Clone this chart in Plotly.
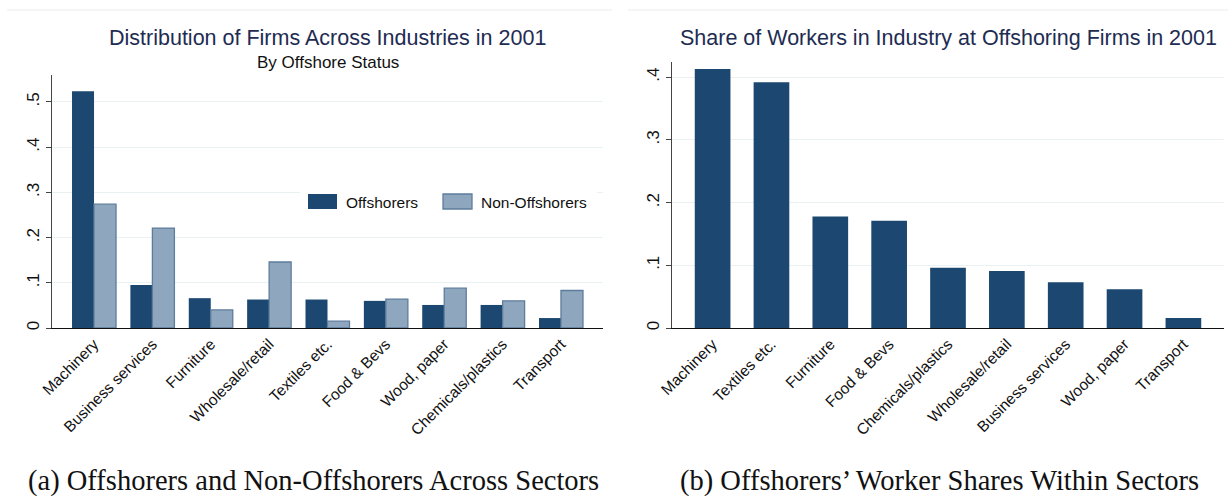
import plotly.graph_objects as go

# ---- data -------------------------------------------------------------
left_categories = ["Machinery", "Business services", "Furniture", "Wholesale/retail",
                   "Textiles etc.", "Food & Bevs", "Wood, paper", "Chemicals/plastics",
                   "Transport"]
offshorers = [0.524, 0.095, 0.066, 0.063, 0.063, 0.060, 0.051, 0.051, 0.022]
non_offshorers = [0.274, 0.221, 0.040, 0.146, 0.015, 0.064, 0.088, 0.060, 0.083]

right_categories = ["Machinery", "Textiles etc.", "Furniture", "Food & Bevs",
                    "Chemicals/plastics", "Wholesale/retail", "Business services",
                    "Wood, paper", "Transport"]
worker_share = [0.413, 0.392, 0.178, 0.171, 0.096, 0.091, 0.073, 0.062, 0.016]

left_ticks = [0, 0.1, 0.2, 0.3, 0.4, 0.5]
left_ticktext = ["0", ".1", ".2", ".3", ".4", ".5"]
right_ticks = [0, 0.1, 0.2, 0.3, 0.4]
right_ticktext = ["0", ".1", ".2", ".3", ".4"]

# ---- styling ----------------------------------------------------------
W, H = 1228, 500
NAVY = "#1b4770"
LIGHT = "#8fa7be"
LIGHT_EDGE = "#5e7d9c"
GRID = "#eaf1f3"
SANS = "Liberation Sans, Arial, sans-serif"
SERIF = "Liberation Serif, Times New Roman, serif"
TITLE_COLOR = "#1e2c52"


def px_x(x):
    return x / W


def px_y(y):
    return 1 - y / H


fig = go.Figure()

fig.add_trace(go.Bar(x=left_categories, y=offshorers, name="Offshorers",
                     marker=dict(color=NAVY, line=dict(color=NAVY, width=0)),
                     xaxis="x", yaxis="y", showlegend=False))
fig.add_trace(go.Bar(x=left_categories, y=non_offshorers, name="Non-Offshorers",
                     marker=dict(color=LIGHT, line=dict(color=LIGHT_EDGE, width=1.3)),
                     xaxis="x", yaxis="y", showlegend=False))
fig.add_trace(go.Bar(x=right_categories, y=worker_share, name="Worker share",
                     width=0.606,
                     marker=dict(color=NAVY, line=dict(color=NAVY, width=0)),
                     xaxis="x2", yaxis="y2", showlegend=False))

xaxis_common = dict(type="category", showline=True, linecolor="#111", linewidth=1.2,
                    ticks="", tickangle=-45, showgrid=False, zeroline=False,
                    automargin=False,
                    tickfont=dict(family=SANS, size=15.5, color="#111"))
yaxis_common = dict(showline=True, linecolor="#444", linewidth=1.2, ticks="outside",
                    ticklen=5, tickcolor="#444", tickangle=-90, showgrid=True,
                    gridcolor=GRID, gridwidth=1, zeroline=False, automargin=False,
                    tickfont=dict(family=SANS, size=17, color="#111"))

fig.update_layout(
    width=W, height=H,
    margin=dict(l=0, r=0, t=0, b=0, autoexpand=False),
    paper_bgcolor="white", plot_bgcolor="white",
    barmode="group", bargap=0.246, bargroupgap=0,
    xaxis=dict(domain=[px_x(52), px_x(603)], range=[-0.72, 8.72], anchor="y",
               **xaxis_common),
    yaxis=dict(domain=[px_y(328), px_y(75)], range=[0, 0.5597], anchor="x",
               tickvals=left_ticks, ticktext=left_ticktext, **yaxis_common),
    xaxis2=dict(domain=[px_x(672), px_x(1224)], range=[-0.69, 8.69], anchor="y2",
                **xaxis_common),
    yaxis2=dict(domain=[px_y(328), px_y(62)], range=[0, 0.4243], anchor="x2",
                tickvals=right_ticks, ticktext=right_ticktext, **yaxis_common),
)

annotations = [
    dict(text="Distribution of Firms Across Industries in 2001", x=px_x(327.5), y=px_y(38),
         font=dict(family=SANS, size=21.5, color=TITLE_COLOR)),
    dict(text="By Offshore Status", x=px_x(327.5), y=px_y(62),
         font=dict(family=SANS, size=17, color="#111")),
    dict(text="Share of Workers in Industry at Offshoring Firms in 2001", x=px_x(948),
         y=px_y(38), font=dict(family=SANS, size=21.5, color=TITLE_COLOR)),
    dict(text="(a) Offshorers and Non-Offshorers Across Sectors", x=px_x(313), y=px_y(481),
         borderpad=0, font=dict(family=SERIF, size=28.5, color="#111")),
    dict(text="(b) Offshorers\u2019 Worker Shares Within Sectors", x=px_x(939), y=px_y(481),
         borderpad=0, font=dict(family=SERIF, size=28.5, color="#111")),
    # legend labels for panel (a)
    dict(text="Offshorers", x=px_x(344), y=px_y(202), xanchor="left",
         font=dict(family=SANS, size=15.5, color="#111")),
    dict(text="Non-Offshorers", x=px_x(479), y=px_y(202), xanchor="left",
         font=dict(family=SANS, size=15.5, color="#111")),
]
for a in annotations:
    a.setdefault("xanchor", "center")
    a.update(xref="paper", yref="paper", yanchor="middle", showarrow=False)
fig.update_layout(annotations=annotations)

shapes = [
    # faint outer frame lines at the top of each panel
    dict(type="line", x0=px_x(7), x1=px_x(612), y0=px_y(10), y1=px_y(10),
         line=dict(color="#ececec", width=1)),
    dict(type="line", x0=px_x(628), x1=px_x(1228), y0=px_y(10), y1=px_y(10),
         line=dict(color="#ececec", width=1)),
    # legend box and swatches for panel (a)
    dict(type="rect", x0=px_x(300), x1=px_x(597), y0=px_y(186), y1=px_y(218),
         fillcolor="white", line=dict(width=0)),
    dict(type="rect", x0=px_x(308), x1=px_x(337), y0=px_y(194), y1=px_y(209),
         fillcolor=NAVY, line=dict(width=0)),
    dict(type="rect", x0=px_x(443), x1=px_x(472), y0=px_y(194), y1=px_y(209),
         fillcolor=LIGHT, line=dict(color=LIGHT_EDGE, width=1.3)),
]
for s in shapes:
    s.update(xref="paper", yref="paper", layer="above")
fig.update_layout(shapes=shapes)

fig.write_html("out.html")
